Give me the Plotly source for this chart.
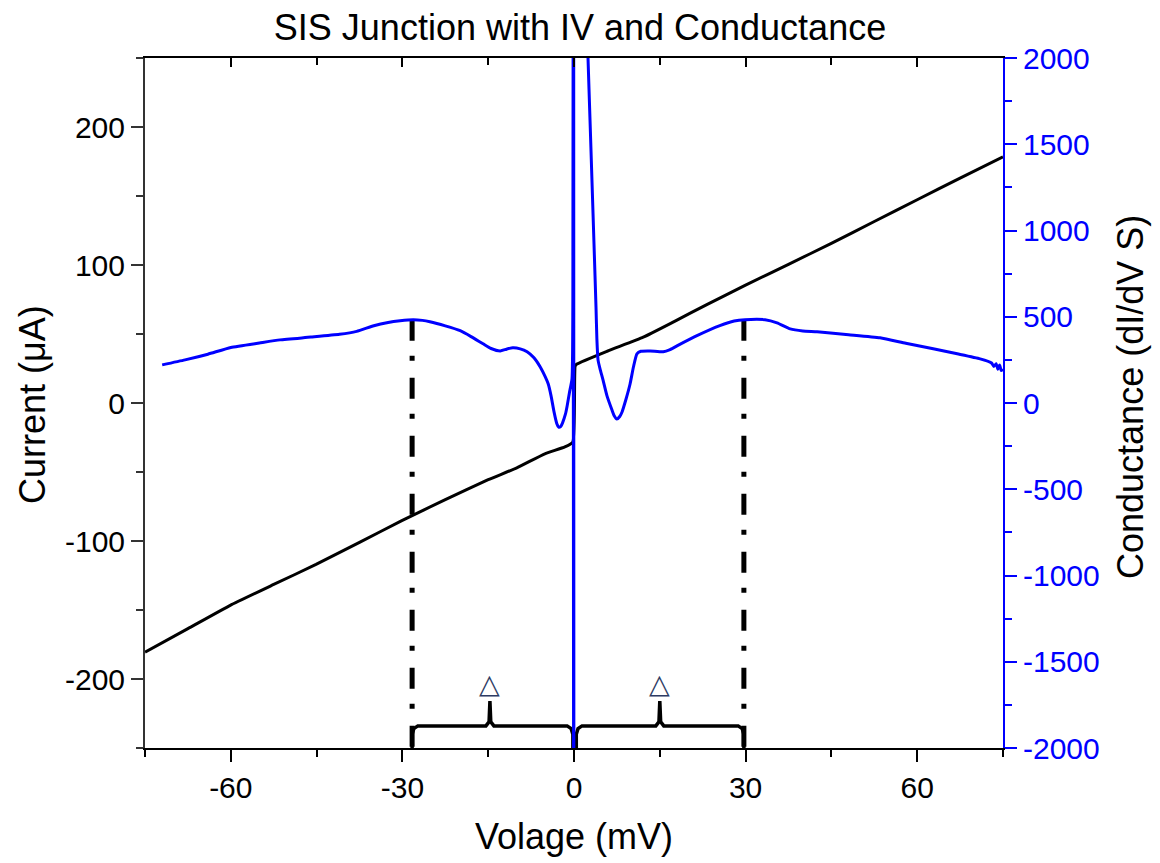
import plotly.graph_objects as go

# ---------------- data ----------------
# I-V curve (voltage mV, current uA)
iv_voltage = [-75, -67.5, -60.1, -52.5, -45.1, -37.5, -30.1, -22.5, -15.0, -10.0, -5.1, -1.6, -0.2,
              0.2, 0.5, 5.8, 12.1, 17.5, 23.3, 29.9, 37.5, 44.9, 52.5, 60.0, 67.5, 75]
iv_current = [-180.5, -163.5, -146.6, -131.5, -117.0, -101.0, -85.2, -70.0, -55.6, -47.0, -36.8, -31.8, -28.2,
              26.7, 28.2, 37.5, 47.7, 59.0, 71.5, 85.2, 100.5, 115.5, 131.5, 147.3, 163.0, 178.3]

# Conductance curve (voltage mV, dI/dV S)
g_voltage = [-72.0, -68, -64, -60, -55, -51.4, -46, -41, -38, -35, -32.5, -30.4, -28.1, -26.5, -25.2,
             -22.5, -19.9, -18, -15.9, -14.5, -12.9, -11.8, -10.7, -9.4, -8.2, -7, -5.9, -5.0, -4.5,
             -4.0, -3.5, -3.0, -2.7, -2.3, -2.0, -1.5, -1.2, -0.8, -0.35, -0.2, -0.08, 0.0, 0.08,
             2.3, 2.45, 2.8, 3.15, 3.5, 3.85, 4.0, 4.2, 4.55, 5.07, 5.77, 6.64, 7.0, 7.5, 8.0, 8.4, 9.1,
             9.8, 10.4, 11.0, 11.7, 13.3, 15.6, 16.8, 18.0, 21.5, 25.5, 28, 29.9, 33.4, 35.5, 37.8,
             40, 42.5, 48, 53.5, 58, 62.8, 67, 71.0, 73.0, 73.4, 73.8, 74.1, 74.4, 74.7, 75.0]
g_values = [221, 250, 283, 322, 348, 366, 382, 398, 415, 448, 467, 477, 483, 479, 471,
            447, 419, 385, 343, 316, 302, 312, 320, 314, 297, 262, 209, 150, 110,
            40, -50, -120, -140, -135, -115, -65, -17, 60, 140, 600, 6000, -6000, 6000,
            2200, 2000, 1640, 1280, 919, 552, 372, 250, 198, 134, 41, -41, -72, -93, -78, -52, 23,
            110, 210, 285, 300, 302, 297, 310, 331, 390, 448, 475, 483, 483, 465, 430,
            418, 413, 396, 378, 346, 314, 285, 256, 232, 212, 228, 196, 220, 188, 195]

# gap features: edges (dash-dot markers), conductance at the peaks, brace tips
gap_edges = [-28.3, 29.7]
gap_peak_g = [483, 483]
brace_spans = [(-28.3, -0.2), (0.4, 29.7)]
brace_tips = [-14.7, 15.0]
delta_label = "\u25b3"

x_ticks = [-60, -30, 0, 30, 60]
y_ticks = [-200, -100, 0, 100, 200]
y2_ticks = [-2000, -1500, -1000, -500, 0, 500, 1000, 1500, 2000]

FONT = "Arial, Liberation Sans, sans-serif"
TICK = 30
TITLE = 36
PAGE_OFFSET = 8  # the page body margin shifts the figure by this many pixels


def labels(vals):
    return [str(v) for v in vals]  # plain hyphen minus like the reference


fig = go.Figure()

# I-V curve
fig.add_trace(go.Scatter(x=iv_voltage, y=iv_current, mode="lines",
                         line=dict(color="black", width=3, shape="spline", smoothing=0.4),
                         showlegend=False, xaxis="x", yaxis="y"))

# braces at the bottom (left axis units)
y_base, y_bar, y_tip = -250, -234, -216
for (x0, x1), tip in zip(brace_spans, brace_tips):
    bx = [x0, x0, x0 + 0.3, x0 + 1.0, tip - 0.7, tip - 0.15, tip, tip + 0.15, tip + 0.7,
          x1 - 1.0, x1 - 0.3, x1, x1]
    by = [y_base, -240, -236, y_bar, y_bar, -231, y_tip, -231, y_bar,
          y_bar, -236, -240, y_base]
    fig.add_trace(go.Scatter(x=bx, y=by, mode="lines", line=dict(color="black", width=3.5),
                             showlegend=False, xaxis="x", yaxis="y"))

# dash-dot markers at the gap edges (right axis units)
for xe, ge in zip(gap_edges, gap_peak_g):
    fig.add_trace(go.Scatter(x=[xe, xe], y=[ge, -2000], mode="lines",
                             line=dict(color="black", width=5, dash="21px,15px,5px,17px"),
                             showlegend=False, xaxis="x", yaxis="y2"))

# conductance curve
fig.add_trace(go.Scatter(x=g_voltage, y=g_values, mode="lines",
                         line=dict(color="#0000ff", width=3, shape="spline", smoothing=0.5),
                         showlegend=False, xaxis="x", yaxis="y2"))

# dummy trace for the top mirror axis
fig.add_trace(go.Scatter(x=[-75, 75], y=[None, None], mode="lines", showlegend=False,
                         xaxis="x2", yaxis="y", hoverinfo="skip"))

for tip in brace_tips:
    fig.add_annotation(x=tip, y=-203, xref="x", yref="y", text=delta_label, showarrow=False,
                       font=dict(family="DejaVu Sans", size=27, color="#2d3b63"))

# axis titles placed as annotations (pixel offsets from the plot frame)
fig.add_annotation(x=0.5, y=0, xref="paper", yref="paper", yshift=-88, text="Volage (mV)",
                   showarrow=False, xanchor="center", yanchor="middle",
                   font=dict(family=FONT, size=TITLE, color="black"))
fig.add_annotation(x=0, y=0.5, xref="paper", yref="paper", xshift=-113, yshift=-2,
                   text="Current (\u03bcA)", textangle=-90, showarrow=False,
                   xanchor="center", yanchor="middle",
                   font=dict(family=FONT, size=TITLE, color="black"))
fig.add_annotation(x=1, y=0.5, xref="paper", yref="paper", xshift=127, yshift=6,
                   text="Conductance (dI/dV S)", textangle=-90, showarrow=False,
                   xanchor="center", yanchor="middle",
                   font=dict(family=FONT, size=TITLE, color="black"))

fig.update_layout(
    width=1160, height=863,
    margin=dict(l=145 - PAGE_OFFSET, r=157 + PAGE_OFFSET, t=58 - PAGE_OFFSET,
                b=115 + PAGE_OFFSET),
    paper_bgcolor="white", plot_bgcolor="white",
    font=dict(family=FONT, color="black"),
    title=dict(text="SIS Junction with IV and Conductance", x=(580 - PAGE_OFFSET) / 1160,
               xanchor="center", y=1 - (27 - PAGE_OFFSET) / 863, yanchor="middle",
               yref="container", font=dict(family=FONT, size=TITLE, color="black")),
    xaxis=dict(range=[-75, 75], tickmode="array", tickvals=x_ticks, ticktext=labels(x_ticks),
               ticks="outside", ticklen=12, tickwidth=2, tickcolor="black",
               minor=dict(dtick=15, tick0=0, ticks="outside", ticklen=7, tickwidth=2,
                          tickcolor="black"),
               showline=True, linewidth=2, linecolor="black", showgrid=False, zeroline=False,
               tickfont=dict(size=TICK, family=FONT), ticklabelstandoff=0, automargin=False),
    xaxis2=dict(range=[-75, 75], overlaying="x", side="top", anchor="y", tickmode="array",
                tickvals=x_ticks, ticks="inside", ticklen=9, tickwidth=2, tickcolor="black",
                minor=dict(dtick=15, tick0=0, ticks="inside", ticklen=7, tickwidth=2,
                           tickcolor="black"),
                showticklabels=False, showline=True, linewidth=2, linecolor="black",
                showgrid=False, zeroline=False, automargin=False),
    yaxis=dict(range=[-250, 250], tickmode="array", tickvals=y_ticks, ticktext=labels(y_ticks),
               ticks="outside", ticklen=12, tickwidth=2, tickcolor="#333333",
               minor=dict(dtick=50, tick0=0, ticks="outside", ticklen=7, tickwidth=2,
                          tickcolor="#333333"),
               showline=True, linewidth=2, linecolor="#333333", showgrid=False, zeroline=False,
               tickfont=dict(size=TICK, family=FONT), ticklabelstandoff=0, automargin=False),
    yaxis2=dict(range=[-2000, 2000], tickmode="array", tickvals=y2_ticks,
                ticktext=labels(y2_ticks), overlaying="y", side="right", anchor="x",
                ticks="outside", ticklen=12, tickwidth=2, tickcolor="#0000ff",
                minor=dict(dtick=250, tick0=0, ticks="outside", ticklen=7, tickwidth=2,
                           tickcolor="#0000ff"),
                showline=True, linewidth=2, linecolor="#0000ff", showgrid=False, zeroline=False,
                tickfont=dict(size=TICK, family=FONT, color="#0000ff"), ticklabelstandoff=0,
                automargin=False),
)

fig.write_html("out.html")
